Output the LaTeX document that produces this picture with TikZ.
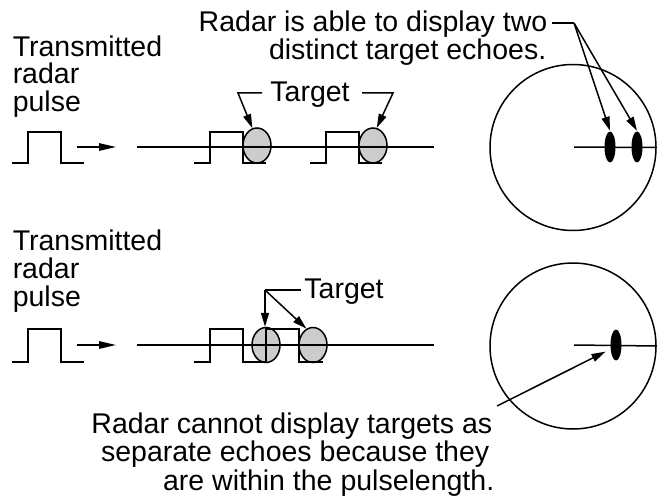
\documentclass[tikz,border=0pt]{standalone}
\usepackage{fontspec}
\setmainfont{Liberation Sans}
\usetikzlibrary{arrows.meta,shapes.geometric}
\begin{document}
\begin{tikzpicture}[x=1pt,y=-1pt,
  line width=1.5pt,
  txt/.style={inner sep=0pt,font=\fontsize{28.5}{28}\selectfont},
  ar/.style={-{Triangle[length=14pt,width=8pt]}},
  longar/.style={-{Triangle[length=17pt,width=7.5pt]}},
  echo/.style={ellipse,draw,fill=gray!40,inner sep=0pt,minimum width=28pt,minimum height=35pt},
  blip/.style={ellipse,fill=black,inner sep=0pt,minimum width=11pt,minimum height=31pt},
  scope/.style={draw,circle,inner sep=0pt,minimum size=166pt}]
\useasboundingbox (0,0) rectangle (664,497);

% ---------- top row ----------
\node[txt,anchor=base west] (t1a) at (12,56.5) {Transmitted};
\node[txt,anchor=base west] (t1b) at (12,84) {radar};
\node[txt,anchor=base west] (t1c) at (12,111.5) {pulse};

\draw (12,163) -- (28,163) -- (28,132) -- (61,132) -- (61,163) -- (84,163);
\coordinate (a1s) at (77,147);
\coordinate (a1e) at (116,147);
\draw[longar] (a1s) -- (a1e);

\node[echo] (eA) at (257,145.5) {};
\node[echo] (eB) at (373,145.5) {};
\draw (137,147) -- (434,147);
\draw (194,163) -- (210,163) -- (210,132) -- (243,132) -- (243,163) -- (266,163);
\draw (310,163) -- (326,163) -- (326,132) -- (359,132) -- (359,163) -- (382,163);

\node[txt,anchor=base] (tg1) at (310,102) {Target};
\coordinate (l1a) at (262,93);
\coordinate (l1b) at (238,93);
\coordinate (l2a) at (362,93);
\coordinate (l2b) at (393,93);
\draw[ar] (l1a) -- (l1b) -- (eA.105);
\draw[ar] (l2a) -- (l2b) -- (eB.78);

\node[txt,anchor=base east] (r1a) at (548,32) {Radar is able to display two};
\node[txt,anchor=base east] (r1b) at (547,60) {distinct target echoes.};

\node[scope] (c1) at (573,147.5) {};
\draw (574,147) -- (c1.east);
\node[blip] (b1) at (610,147) {};
\node[blip] (b2) at (637,147) {};
\coordinate (k1) at (552,23);
\coordinate (k2) at (574,23);
\draw (k1) -- (k2);
\draw[ar] (k2) -- (b1.north);
\draw[ar] (k2) -- (b2.north);

% ---------- bottom row ----------
\node[txt,anchor=base west] (t2a) at (12,251) {Transmitted};
\node[txt,anchor=base west] (t2b) at (12,278.5) {radar};
\node[txt,anchor=base west] (t2c) at (12,306.5) {pulse};

\draw (12,362) -- (28,362) -- (28,329) -- (61,329) -- (61,362) -- (84,362);
\coordinate (a2s) at (77,345);
\coordinate (a2e) at (116,345);
\draw[longar] (a2s) -- (a2e);

\node[echo] (ea) at (266,345) {};
\node[echo] (eb) at (313,345) {};
\draw (137,345) -- (434,345);
\draw (194,362) -- (210,362) -- (210,329) -- (243,329) -- (243,362) -- (266,362)
      -- (266,329) -- (299,329) -- (299,362) -- (323,362);

\node[txt,anchor=base] (tg2) at (344,298) {Target};
\coordinate (m1) at (301,290);
\coordinate (m2) at (265,290);
\draw (m1) -- (m2);
\draw[ar] (m2) -- (m2 |- ea.north);
\draw[ar] (m2) -- (eb.112);

\node[scope] (c2) at (573,346) {};
\draw (574,345) -- (c2.east);
\node[blip] (bb) at (616,345) {};

\node[txt,anchor=base east] (s1) at (493,433) {Radar cannot display targets as};
\node[txt,anchor=base east] (s2) at (490,461.5) {separate echoes because they};
\node[txt,anchor=base east] (s3) at (495,490) {are within the pulselength.};
\coordinate (q1) at (497,406);
\draw[ar,shorten >=5pt] (q1) -- (bb.216);
\end{tikzpicture}
\end{document}
